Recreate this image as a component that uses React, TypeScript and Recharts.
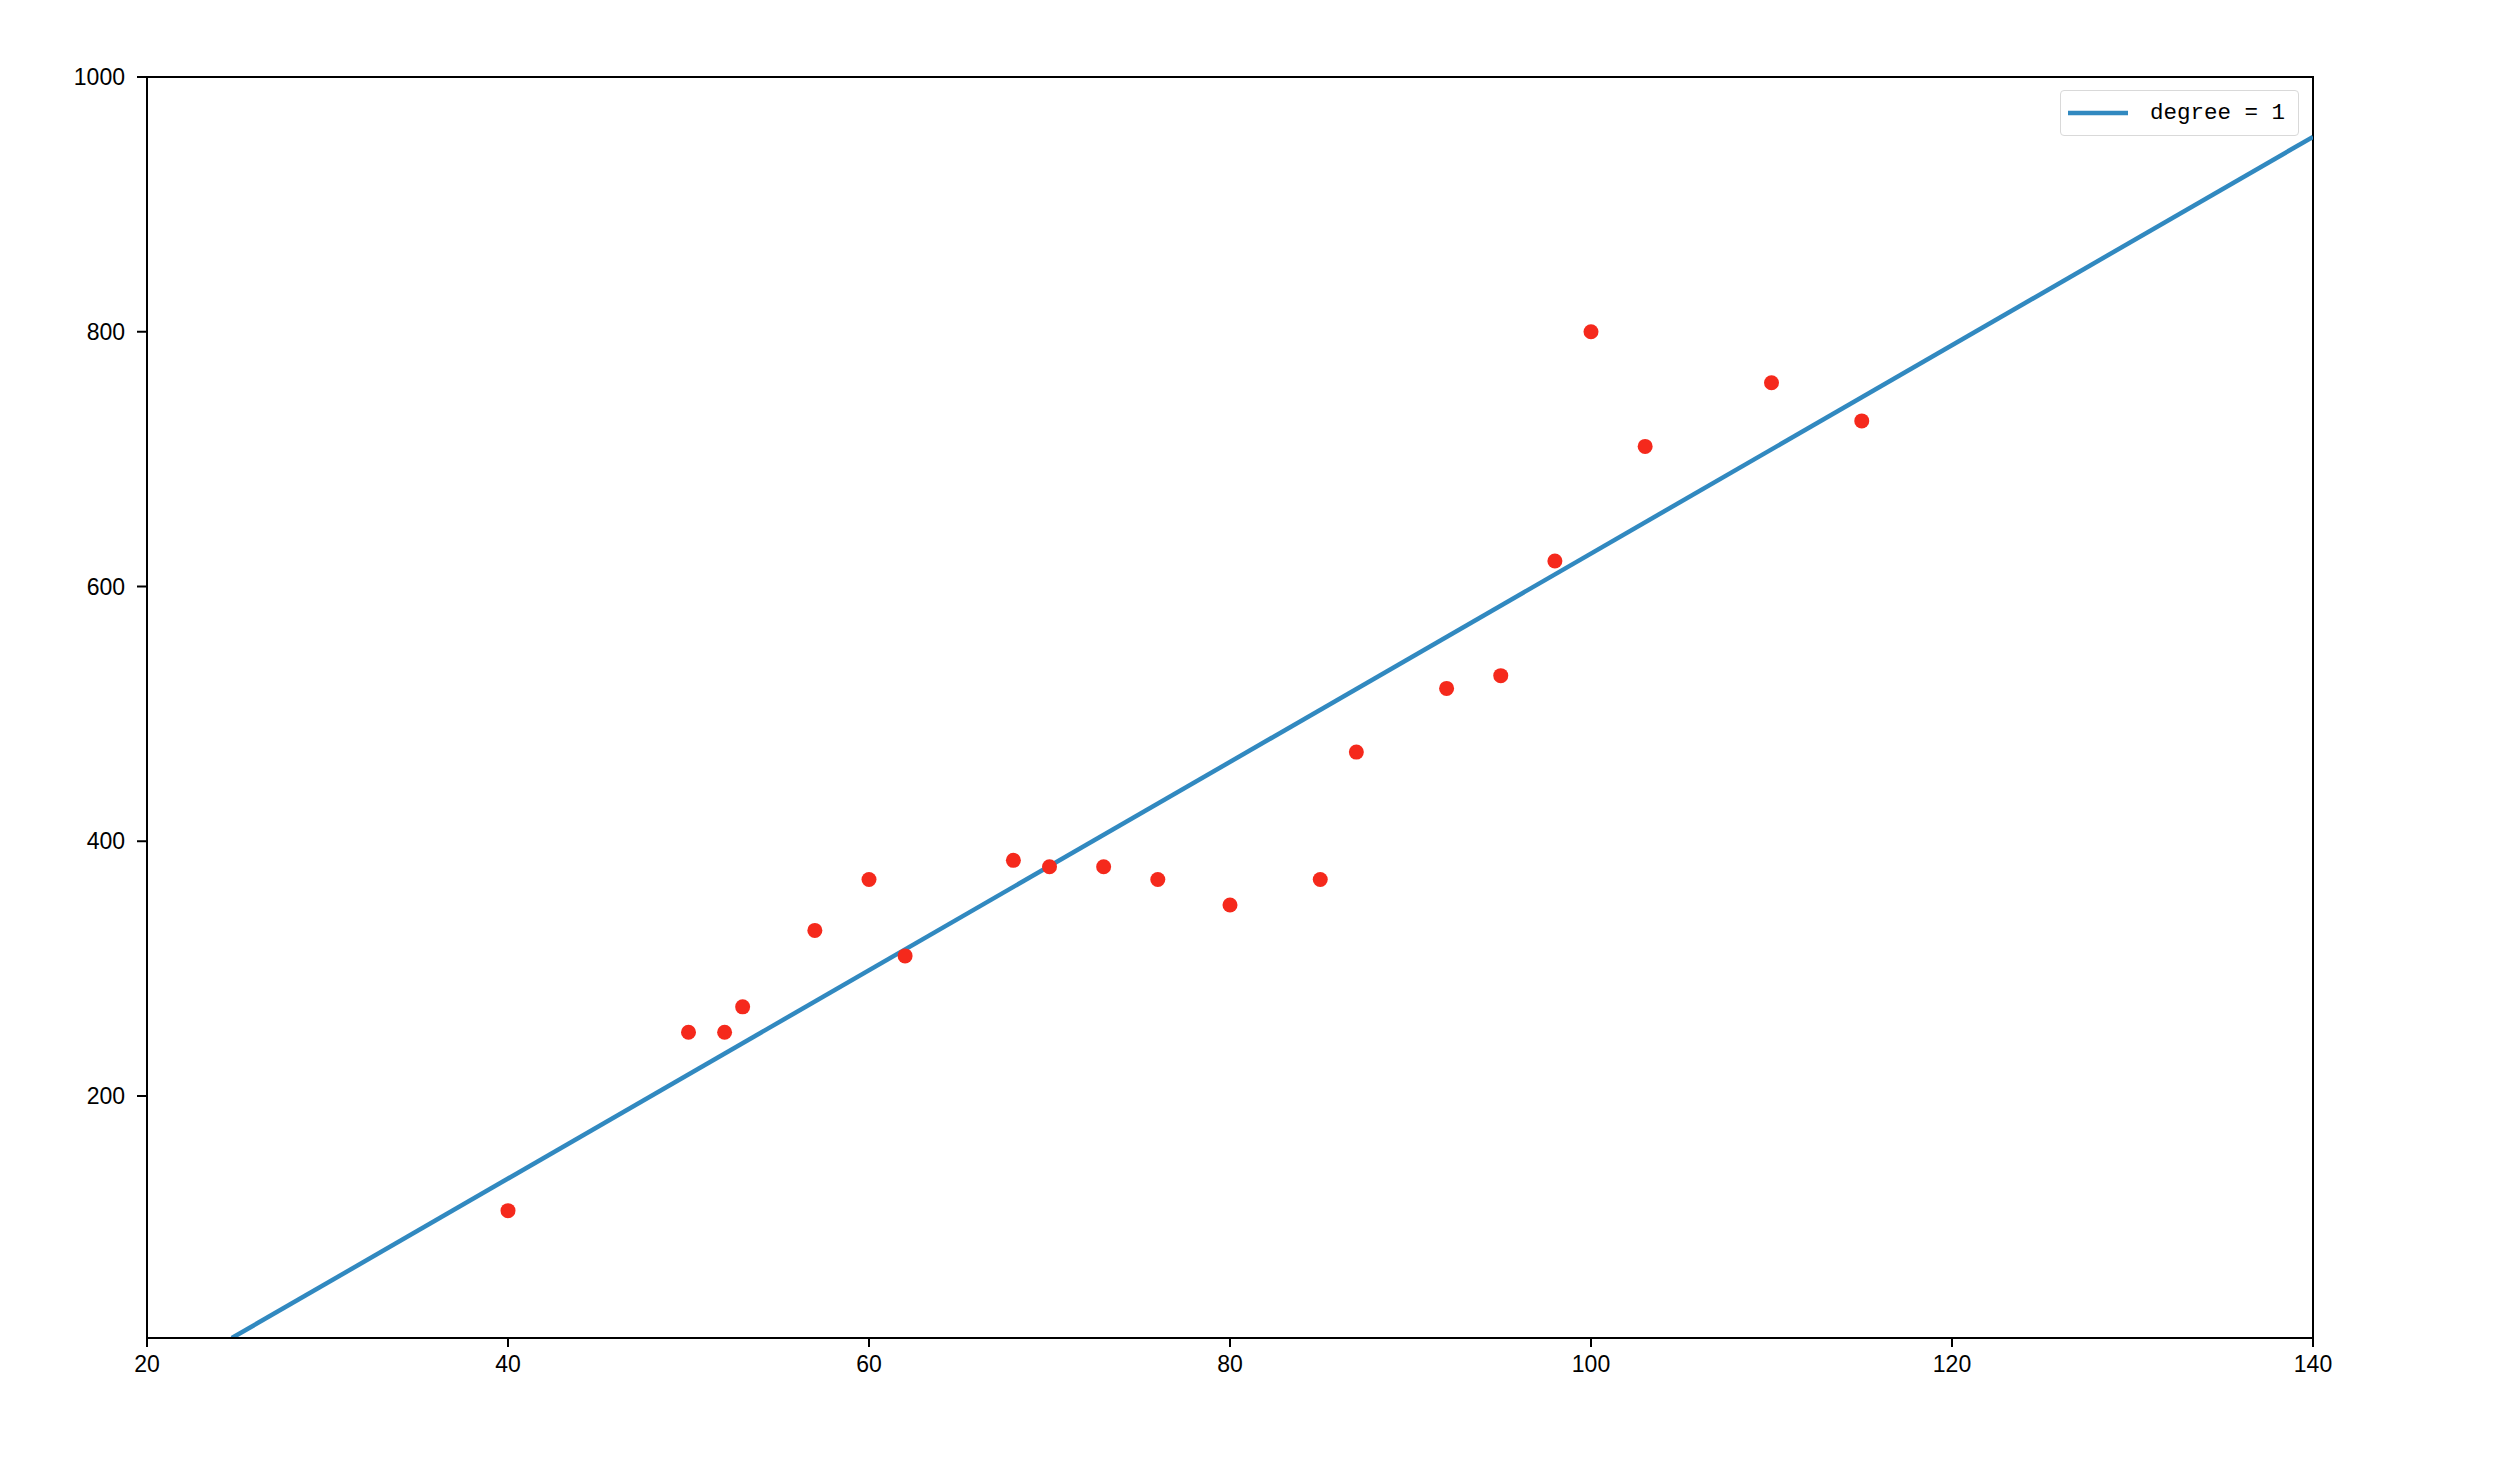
import {
  ComposedChart,
  Line,
  Scatter,
  XAxis,
  YAxis,
  ReferenceArea,
} from "recharts";

const xTicks = [20, 40, 60, 80, 100, 120, 140];
const yTicks = [200, 400, 600, 800, 1000];

const sampleX = [40, 50, 52, 53, 57, 60, 62, 68, 70, 73, 76, 80, 85, 87, 92, 95, 98, 100, 103, 110, 115];
const sampleY = [110, 250, 250, 270, 330, 370, 310, 385, 380, 380, 370, 350, 370, 470, 520, 530, 620, 800, 710, 760, 730];

// fitted line endpoints
const fitX = [24.7, 140];
const fitY = [10, 953];

const points = sampleX.map((x, i) => ({ x, y: sampleY[i] }));
const fitLine = fitX.map((x, i) => ({ x, y: fitY[i] }));

const LINE_COLOR = "#3189c0";
const DOT_COLOR = "#f5291c";
const FONT = "'Liberation Sans', Arial, sans-serif";

function LegendBox() {
  return (
    <div
      style={{
        position: "absolute",
        left: 2052,
        top: 82,
        boxSizing: "border-box",
        width: 239,
        height: 46,
        border: "1.5px solid #d9d9d9",
        borderRadius: 4,
        background: "#fff",
        display: "flex",
        alignItems: "center",
        paddingLeft: 7,
      }}
    >
      <svg width={62} height={10} style={{ display: "block" }}>
        <line x1={0} y1={5} x2={60} y2={5} stroke={LINE_COLOR} strokeWidth={4.5} />
      </svg>
      <span
        style={{
          marginLeft: 20,
          fontFamily: "'Liberation Mono', 'DejaVu Sans Mono', monospace",
          fontSize: 22.5,
          color: "#000",
        }}
      >
        degree = 1
      </span>
    </div>
  );
}

export default function App() {
  return (
    <div style={{ position: "relative", width: 2500, height: 1440 }}>
      <ComposedChart
        width={2500}
        height={1440}
        margin={{ top: 69, right: 195, left: 0, bottom: 0 }}
      >
        <XAxis
          type="number"
          dataKey="x"
          domain={[20, 140]}
          ticks={xTicks}
          allowDataOverflow
          height={110}
          tickSize={9}
          tickMargin={9}
          stroke="#000"
          axisLine={{ stroke: "#000", strokeWidth: 2 }}
          tickLine={{ stroke: "#000", strokeWidth: 2 }}
          tick={{ fill: "#000", fontSize: 23, fontFamily: FONT }}
        />
        <YAxis
          type="number"
          dataKey="y"
          domain={[10, 1000]}
          ticks={yTicks}
          allowDataOverflow
          width={139}
          tickSize={10}
          tickMargin={12}
          stroke="#000"
          axisLine={{ stroke: "#000", strokeWidth: 2 }}
          tickLine={{ stroke: "#000", strokeWidth: 2 }}
          tick={{ fill: "#000", fontSize: 23, fontFamily: FONT }}
        />
        <ReferenceArea
          x1={20}
          x2={140}
          y1={10}
          y2={1000}
          fill="none"
          fillOpacity={0}
          stroke="#000"
          strokeWidth={2}
        />
        <Line
          data={fitLine}
          dataKey="y"
          type="linear"
          stroke={LINE_COLOR}
          strokeWidth={4.5}
          dot={false}
          activeDot={false}
          isAnimationActive={false}
          name="degree = 1"
        />
        <Scatter
          data={points}
          dataKey="y"
          fill={DOT_COLOR}
          isAnimationActive={false}
          shape={(p: any) => <circle cx={p.cx} cy={p.cy} r={7.5} fill={DOT_COLOR} />}
        />
      </ComposedChart>
      <LegendBox />
    </div>
  );
}
